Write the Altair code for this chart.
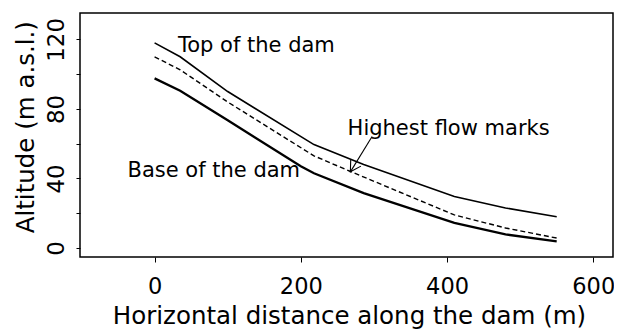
import altair as alt
import pandas as pd

# ---- data ----
top_x = [0, 35, 100, 218, 286, 410, 480, 550]
top_y = [118, 110, 90, 59.5, 48, 29.6, 23, 18]

flow_x = [0, 35, 100, 218, 268, 410, 480, 550]
flow_y = [110, 102.5, 84, 53, 44, 19, 11.5, 5.7]

base_x = [0, 35, 100, 200, 218, 286, 410, 480, 550]
base_y = [97.6, 90.5, 73.5, 47, 43, 31.6, 14.4, 7.8, 3.8]

label_text = ["Top of the dam", "Base of the dam", "Highest flow marks"]
label_x = [32, -37, 264]
label_y = [112.9, 40.9, 65.0]

arrow_x = [297.5, 267.8]
arrow_y = [64.1, 43.8]

x_ticks = [0, 200, 400, 600]
y_ticks = [0, 20, 40, 60, 80, 100, 120]

FONT = "DejaVu Sans"

top_df = pd.DataFrame({"x": top_x, "y": top_y})
flow_df = pd.DataFrame({"x": flow_x, "y": flow_y})
base_df = pd.DataFrame({"x": base_x, "y": base_y})
lab_df = pd.DataFrame({"x": label_x, "y": label_y, "t": label_text})
arr_df = pd.DataFrame({"x": arrow_x, "y": arrow_y})
tip_df = arr_df.iloc[[1]]

xs = alt.Scale(domain=[-102, 627], nice=False, zero=False)
ys = alt.Scale(domain=[-5.2, 135.2], nice=False, zero=False)

x_axis = alt.Axis(
    values=x_ticks, title="Horizontal distance along the dam (m)", domain=False, grid=False,
    tickSize=5, tickColor="black", tickWidth=1,
    labelFont=FONT, labelFontSize=22.5, labelColor="black", labelBaseline="alphabetic",
    labelPadding=31, labelFlush=False, labelOverlap=False,
    titleFont=FONT, titleFontSize=24.5, titleFontWeight="normal", titleColor="black",
    titleX=269, titleY=66, titleBaseline="alphabetic", titleAlign="center",
)
y_axis = alt.Axis(
    values=y_ticks, title="Altitude (m a.s.l.)", domain=False, grid=False,
    labelExpr="datum.value % 40 == 0 ? datum.label : ''",
    tickSize=4, tickColor="black", tickWidth=1,
    labelFont=FONT, labelFontSize=23, labelColor="black", labelAngle=270,
    labelAlign="center", labelBaseline="alphabetic", labelPadding=13,
    labelFlush=False, labelOverlap=False,
    titleFont=FONT, titleFontSize=24.5, titleFontWeight="normal", titleColor="black",
    titleAngle=270, titleX=-47, titleY=113.7, titleBaseline="alphabetic", titleAlign="center",
)

X = alt.X("x:Q", scale=xs, axis=x_axis)
Y = alt.Y("y:Q", scale=ys, axis=y_axis)

top = alt.Chart(top_df).mark_line(color="black", strokeWidth=1.6).encode(x=X, y=Y)
flow = alt.Chart(flow_df).mark_line(color="black", strokeWidth=1.4, strokeDash=[5, 3]).encode(x=X, y=Y)
base = alt.Chart(base_df).mark_line(color="black", strokeWidth=2.3).encode(x=X, y=Y)
labels = alt.Chart(lab_df).mark_text(
    font=FONT, fontSize=21, color="black", align="left", baseline="alphabetic"
).encode(x=X, y=Y, text="t:N")
arrow = alt.Chart(arr_df).mark_line(color="black", strokeWidth=1.1).encode(x=X, y=Y)
head = alt.Chart(tip_df).mark_point(
    shape="M -0.577 -1 L 0 0 L 0.577 -1", filled=False, size=432, angle=31.6,
    strokeWidth=1.1, color="black", opacity=1,
).encode(x=X, y=Y)

chart = alt.layer(top, flow, base, arrow, head, labels).properties(
    width=533, height=244,
    autosize=alt.AutoSizeParams(type="none"),
    padding={"left": 72, "top": 5, "right": 1, "bottom": 73},
    background="white",
).configure_view(stroke="black", strokeWidth=1.5)

chart.save("out.html", embed_options={"renderer": "svg", "actions": False})
